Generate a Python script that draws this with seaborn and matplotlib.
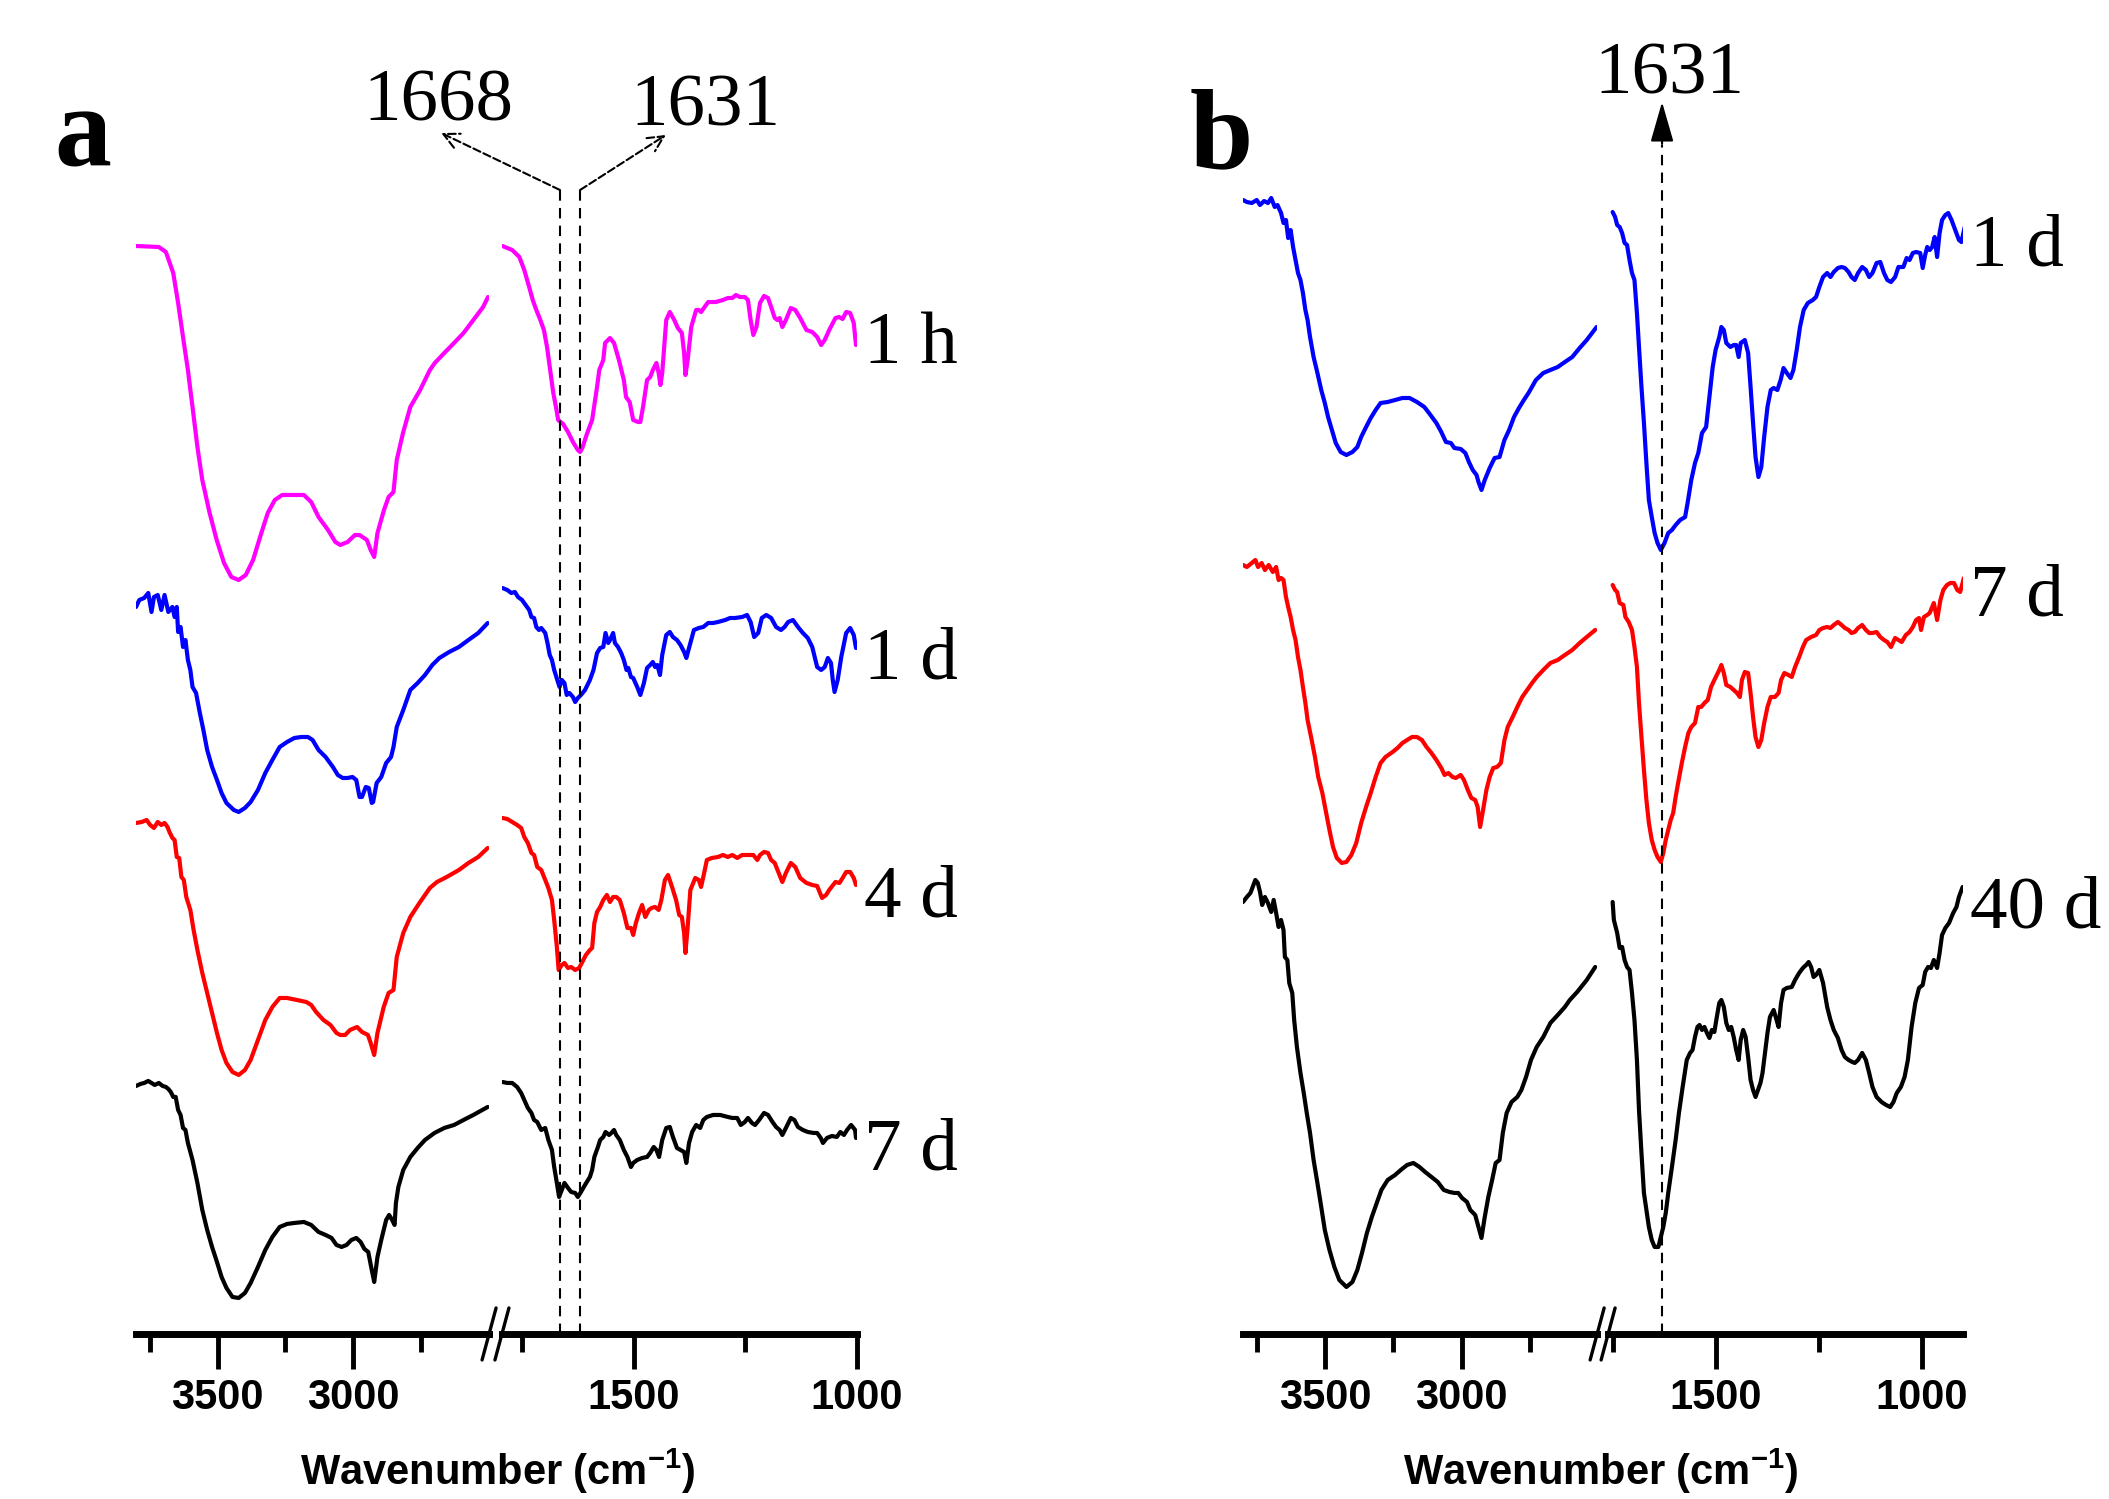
import matplotlib
matplotlib.use("Agg")
import matplotlib.pyplot as plt
from matplotlib import font_manager
from matplotlib.lines import Line2D
import seaborn as sns

# FTIR spectra: wavenumber (cm-1) and stacked transmittance (arb. units)
# panel a - left (OH/CH) segment and right (fingerprint) segment

a_1h_left_wn = [3800, 3716, 3690, 3663, 3645, 3627, 3609, 3592, 3574, 3556, 3529, 3503, 3476, 3449, 3422,
                3396, 3369, 3342, 3315, 3289, 3262, 3182, 3155, 3128, 3093, 3066, 3048, 3021, 2994, 2977,
                2950, 2936, 2923, 2911, 2887, 2870, 2852, 2840, 2817, 2790, 2754, 2718, 2700, 2665, 2629,
                2594, 2558, 2522, 2504]
a_1h_left_t = [108.8, 108.7, 108.2, 106.1, 103.1, 99.7, 96.4, 92.7, 88.7, 85.4, 82.1, 79.4, 77.1, 75.7, 75.4,
               75.9, 77.4, 79.8, 82.1, 83.4, 83.9, 83.9, 83.2, 81.7, 80.4, 79.2, 78.9, 79.2, 79.9, 79.9,
               79.4, 78.4, 77.7, 80.1, 82.4, 83.7, 84.2, 87.4, 90.1, 92.7, 94.4, 96.4, 97.1, 98.1, 99.1,
               100.1, 101.4, 102.7, 103.7]
a_1h_right_wn = [1794, 1772, 1756, 1745, 1734, 1726, 1718, 1709, 1701, 1694, 1687, 1680, 1674, 1669, 1658,
                 1647, 1636, 1625, 1620, 1615, 1604, 1593, 1582, 1577, 1568, 1564, 1553, 1544, 1533, 1522,
                 1517, 1509, 1501, 1490, 1485, 1479, 1470, 1463, 1457, 1449, 1444, 1440, 1436, 1427, 1419,
                 1409, 1401, 1392, 1387, 1384, 1379, 1371, 1360, 1354, 1349, 1338, 1333, 1316, 1300, 1289,
                 1279, 1271, 1262, 1251, 1244, 1238, 1232, 1225, 1217, 1208, 1199, 1192, 1184, 1178, 1173,
                 1167, 1159, 1148, 1138, 1127, 1113, 1100, 1089, 1080, 1072, 1062, 1048, 1040, 1032, 1024,
                 1015, 1007, 1002]
a_1h_right_t = [108.8, 108.4, 107.7, 106.4, 104.7, 103.4, 102.4, 101.4, 100.4, 98.7, 96.4, 94.1, 92.7, 91.4, 91.0,
                90.2, 89.2, 88.4, 88.2, 88.6, 90.1, 91.4, 94.7, 96.4, 97.4, 99.1, 99.6, 99.1, 97.4, 95.4,
                93.7, 93.2, 91.4, 91.2, 91.2, 92.7, 95.4, 95.7, 96.4, 97.1, 96.1, 94.9, 96.1, 101.4, 102.2,
                101.4, 100.6, 100.1, 98.1, 95.9, 97.4, 100.7, 102.4, 102.4, 102.2, 102.9, 103.2, 103.2, 103.4, 103.6,
                103.6, 103.9, 103.7, 103.7, 103.4, 101.4, 99.9, 100.7, 103.1, 103.8, 103.6, 102.7, 101.6, 101.4, 101.6,
                100.7, 101.4, 102.6, 102.4, 101.6, 100.4, 100.2, 99.7, 98.9, 99.4, 100.4, 101.6, 101.7, 101.5, 102.2,
                102.1, 101.1, 98.9]

a_1d_left_wn = [3800, 3788, 3770, 3755, 3743, 3734, 3720, 3707, 3695, 3681, 3666, 3658, 3650, 3645, 3636,
                3627, 3618, 3609, 3600, 3592, 3579, 3565, 3552, 3538, 3520, 3502, 3485, 3467, 3440, 3422,
                3399, 3378, 3351, 3324, 3298, 3271, 3244, 3217, 3191, 3167, 3150, 3128, 3102, 3075, 3057,
                3039, 3021, 3003, 2989, 2977, 2968, 2954, 2943, 2932, 2927, 2914, 2897, 2879, 2861, 2852,
                2840, 2816, 2790, 2763, 2736, 2709, 2683, 2647, 2611, 2576, 2540, 2505]
a_1d_left_t = [72.7, 73.4, 73.6, 74.1, 72.2, 73.7, 73.9, 72.4, 73.9, 72.2, 72.7, 71.7, 72.7, 70.2, 70.7,
               68.7, 69.4, 67.4, 66.4, 64.7, 64.1, 62.1, 60.4, 58.4, 56.7, 55.4, 54.1, 53.1, 52.4, 52.2,
               52.6, 53.2, 54.4, 56.1, 57.4, 58.7, 59.2, 59.6, 59.7, 59.7, 59.4, 58.4, 57.7, 56.7, 55.9,
               55.6, 55.6, 55.7, 55.4, 53.7, 53.7, 54.7, 54.6, 53.1, 53.2, 55.1, 55.7, 57.1, 57.7, 58.7,
               60.7, 62.4, 64.4, 65.1, 65.9, 66.9, 67.6, 68.2, 68.7, 69.4, 70.1, 71.1]
a_1d_right_wn = [1794, 1783, 1774, 1766, 1759, 1750, 1742, 1734, 1729, 1723, 1718, 1712, 1707, 1698, 1693,
                 1688, 1683, 1678, 1671, 1666, 1661, 1655, 1650, 1644, 1636, 1631, 1625, 1618, 1609, 1598,
                 1590, 1582, 1575, 1568, 1563, 1557, 1553, 1546, 1542, 1535, 1528, 1522, 1516, 1512, 1506,
                 1501, 1492, 1485, 1477, 1470, 1463, 1457, 1452, 1447, 1441, 1436, 1427, 1419, 1412, 1403,
                 1395, 1387, 1382, 1376, 1365, 1354, 1344, 1333, 1322, 1311, 1295, 1284, 1273, 1257, 1246,
                 1238, 1230, 1221, 1213, 1203, 1192, 1181, 1170, 1162, 1154, 1143, 1132, 1121, 1110, 1100,
                 1089, 1080, 1072, 1065, 1058, 1054, 1050, 1043, 1035, 1024, 1015, 1007, 1002]
a_1d_right_t = [74.6, 74.4, 74.1, 74.2, 73.7, 73.4, 72.9, 72.4, 71.7, 71.6, 70.7, 70.4, 70.6, 70.1, 69.1,
                67.9, 67.4, 66.4, 65.4, 64.7, 65.4, 65.1, 63.9, 64.1, 63.7, 63.2, 63.6, 63.9, 64.4, 65.4,
                66.4, 68.1, 68.6, 68.7, 70.1, 69.1, 69.4, 70.1, 69.1, 68.7, 68.1, 67.4, 66.4, 66.6, 65.7,
                65.6, 64.7, 63.9, 65.1, 66.6, 66.9, 67.2, 66.7, 66.9, 65.9, 67.9, 69.9, 70.2, 69.7, 69.4,
                68.9, 68.2, 67.6, 68.6, 70.4, 70.6, 70.7, 71.1, 71.1, 71.2, 71.4, 71.6, 71.6, 71.7, 71.9,
                71.2, 69.7, 70.1, 71.6, 71.9, 71.6, 70.7, 70.4, 70.7, 71.2, 71.4, 70.7, 70.1, 69.6, 68.7,
                66.7, 66.4, 66.7, 67.6, 67.1, 65.4, 64.2, 65.4, 67.7, 70.1, 70.6, 69.9, 68.6]

a_4d_left_wn = [3800, 3779, 3761, 3748, 3734, 3720, 3707, 3695, 3684, 3677, 3666, 3658, 3650, 3641, 3633,
                3624, 3615, 3600, 3588, 3574, 3556, 3538, 3520, 3502, 3485, 3467, 3445, 3422, 3399, 3378,
                3351, 3324, 3298, 3271, 3244, 3208, 3173, 3155, 3137, 3110, 3084, 3062, 3048, 3030, 3012,
                2986, 2968, 2946, 2936, 2923, 2911, 2888, 2870, 2852, 2840, 2816, 2790, 2754, 2718, 2692,
                2656, 2611, 2576, 2540, 2505]
a_4d_left_t = [51.1, 51.2, 51.4, 50.9, 50.6, 51.2, 50.9, 51.1, 50.7, 50.2, 49.6, 49.4, 47.7, 47.6, 45.7,
               45.4, 43.7, 42.4, 40.4, 38.4, 36.1, 34.1, 32.1, 30.1, 28.4, 27.1, 26.2, 25.9, 26.4, 27.4,
               29.4, 31.4, 32.7, 33.6, 33.6, 33.4, 33.2, 32.9, 32.2, 31.4, 30.9, 30.1, 29.9, 29.9, 30.4,
               30.7, 30.2, 29.9, 29.1, 27.9, 30.1, 32.7, 34.1, 34.4, 37.7, 40.1, 41.7, 43.2, 44.6, 45.2,
               45.7, 46.4, 47.1, 47.7, 48.6]
a_4d_right_wn = [1794, 1783, 1772, 1761, 1752, 1745, 1737, 1729, 1723, 1716, 1707, 1698, 1691, 1683, 1678,
                 1672, 1668, 1661, 1655, 1647, 1640, 1631, 1622, 1615, 1607, 1598, 1593, 1588, 1582, 1575,
                 1568, 1560, 1553, 1546, 1539, 1531, 1522, 1514, 1506, 1501, 1495, 1488, 1481, 1474, 1466,
                 1460, 1452, 1444, 1438, 1430, 1423, 1414, 1405, 1398, 1392, 1387, 1384, 1379, 1373, 1362,
                 1354, 1349, 1344, 1336, 1325, 1311, 1300, 1289, 1279, 1268, 1257, 1243, 1232, 1223, 1217,
                 1208, 1199, 1192, 1184, 1176, 1167, 1159, 1148, 1138, 1127, 1113, 1100, 1089, 1078, 1069,
                 1062, 1048, 1039, 1032, 1024, 1015, 1007, 1002]
a_4d_right_t = [51.6, 51.5, 51.2, 50.9, 50.6, 49.7, 49.1, 48.1, 47.9, 46.7, 46.4, 45.4, 44.6, 43.4, 41.4,
                38.7, 36.4, 36.9, 37.1, 36.6, 36.7, 36.4, 36.6, 37.2, 37.9, 38.4, 38.6, 41.1, 42.2, 42.7,
                43.4, 43.9, 43.2, 43.7, 43.7, 43.4, 42.1, 40.6, 40.6, 39.9, 41.1, 42.1, 42.9, 41.7, 42.4,
                42.6, 42.7, 42.4, 43.4, 45.4, 45.9, 44.7, 43.4, 41.9, 41.7, 40.1, 38.1, 40.7, 44.4, 45.6,
                45.4, 44.7, 45.7, 47.4, 47.6, 47.7, 47.9, 47.7, 47.9, 47.6, 47.9, 47.9, 47.9, 47.4, 47.9,
                48.2, 48.1, 47.4, 47.1, 46.2, 45.2, 46.1, 47.1, 46.7, 45.6, 45.1, 44.9, 44.8, 43.6, 43.9,
                44.4, 45.2, 45.1, 45.6, 46.2, 46.2, 45.6, 44.9]

a_7d_left_wn = [3800, 3784, 3770, 3755, 3743, 3731, 3716, 3702, 3690, 3681, 3672, 3663, 3654, 3645, 3636,
                3627, 3618, 3609, 3592, 3574, 3556, 3538, 3520, 3502, 3485, 3467, 3445, 3422, 3399, 3378,
                3351, 3324, 3298, 3271, 3244, 3217, 3182, 3155, 3128, 3102, 3080, 3062, 3043, 3025, 3007,
                2989, 2973, 2959, 2945, 2932, 2923, 2911, 2897, 2879, 2868, 2857, 2848, 2843, 2834, 2816,
                2790, 2763, 2736, 2701, 2665, 2629, 2594, 2558, 2505]
a_7d_left_t = [24.8, 25.0, 25.1, 25.3, 25.1, 24.9, 25.1, 24.8, 24.7, 24.5, 24.2, 23.7, 23.7, 22.4, 21.9,
               20.6, 20.4, 19.1, 17.4, 15.1, 12.4, 10.4, 8.7, 7.2, 5.7, 4.6, 3.7, 3.6, 4.1, 5.1,
               6.7, 8.4, 9.7, 10.7, 11.0, 11.1, 11.2, 10.9, 10.2, 9.9, 9.6, 8.9, 8.7, 8.9, 9.4,
               9.6, 9.2, 8.5, 8.2, 6.4, 5.2, 7.7, 9.4, 11.4, 11.9, 11.4, 10.9, 13.1, 14.7, 16.4,
               17.7, 18.6, 19.4, 20.1, 20.6, 20.9, 21.4, 21.9, 22.7]
a_7d_right_wn = [1794, 1783, 1772, 1761, 1752, 1745, 1737, 1729, 1723, 1716, 1707, 1698, 1691, 1683, 1678,
                 1672, 1667, 1661, 1655, 1647, 1640, 1631, 1625, 1618, 1609, 1598, 1593, 1588, 1580, 1575,
                 1568, 1563, 1555, 1550, 1544, 1539, 1531, 1522, 1514, 1506, 1501, 1492, 1481, 1470, 1463,
                 1455, 1449, 1443, 1436, 1427, 1419, 1412, 1403, 1395, 1387, 1382, 1376, 1369, 1360, 1351,
                 1344, 1336, 1322, 1306, 1289, 1279, 1268, 1260, 1251, 1244, 1235, 1228, 1219, 1208, 1199,
                 1189, 1181, 1173, 1167, 1159, 1148, 1140, 1132, 1121, 1110, 1097, 1089, 1081, 1076, 1067,
                 1056, 1045, 1037, 1029, 1022, 1013, 1004, 1002]
a_7d_right_t = [25.2, 25.1, 25.1, 24.7, 24.1, 23.4, 22.6, 22.1, 21.4, 21.2, 20.4, 20.6, 19.4, 18.4, 16.7,
                15.1, 13.7, 14.4, 15.1, 14.6, 14.2, 14.1, 13.7, 14.2, 14.9, 15.7, 16.4, 17.7, 18.7, 19.4,
                19.7, 20.2, 19.9, 20.1, 20.4, 19.9, 19.4, 18.4, 17.7, 16.7, 17.1, 17.4, 17.6, 17.7, 18.1,
                18.7, 18.4, 17.7, 19.4, 20.6, 20.7, 19.7, 18.6, 18.4, 18.2, 17.1, 19.1, 20.2, 20.9, 20.6,
                21.4, 21.7, 21.9, 21.9, 21.7, 21.6, 21.6, 20.9, 21.2, 21.6, 21.1, 20.9, 21.4, 22.1, 21.9,
                21.2, 20.7, 20.4, 19.9, 20.6, 21.6, 21.4, 20.7, 20.4, 20.2, 20.1, 20.1, 19.6, 19.1, 19.6,
                19.8, 19.7, 20.2, 19.9, 20.4, 20.9, 20.4, 19.6]

# panel b
b_1d_left_wn = [3800, 3786, 3768, 3750, 3738, 3723, 3709, 3697, 3684, 3674, 3661, 3652, 3643, 3635, 3626,
                3617, 3608, 3599, 3590, 3581, 3572, 3564, 3555, 3542, 3528, 3514, 3501, 3489, 3475, 3461,
                3443, 3422, 3400, 3382, 3368, 3350, 3333, 3315, 3297, 3271, 3244, 3217, 3191, 3164, 3137,
                3120, 3093, 3075, 3058, 3040, 3027, 3004, 2987, 2974, 2960, 2946, 2939, 2928, 2916, 2898,
                2880, 2862, 2844, 2827, 2809, 2791, 2773, 2756, 2729, 2702, 2676, 2649, 2623, 2596, 2569,
                2543, 2507]
b_1d_left_t = [113.4, 113.2, 113.1, 113.4, 112.9, 113.3, 113.1, 113.6, 112.7, 112.9, 112.1, 111.1, 111.4, 109.6, 110.4,
               108.7, 107.4, 106.1, 105.4, 104.1, 102.4, 101.4, 99.7, 97.7, 96.1, 94.4, 93.1, 91.7, 90.4, 89.1,
               88.2, 87.9, 88.2, 88.7, 89.7, 90.7, 91.6, 92.4, 93.1, 93.2, 93.4, 93.6, 93.6, 93.2, 92.7,
               92.1, 91.1, 90.2, 89.2, 89.1, 88.6, 88.5, 88.1, 87.2, 86.4, 85.9, 85.2, 84.4, 85.4, 86.6,
               87.6, 87.7, 89.4, 90.4, 91.7, 92.6, 93.4, 94.1, 95.4, 96.1, 96.4, 96.7, 97.2, 97.7, 98.6,
               99.4, 100.7]
b_1d_right_wn = [1751, 1745, 1740, 1734, 1728, 1722, 1716, 1710, 1704, 1698, 1692, 1687, 1681, 1675, 1669,
                 1663, 1656, 1649, 1642, 1634, 1625, 1616, 1607, 1598, 1587, 1575, 1569, 1560, 1551, 1543,
                 1534, 1524, 1516, 1508, 1501, 1492, 1487, 1481, 1475, 1465, 1457, 1451, 1445, 1440, 1430,
                 1422, 1416, 1410, 1404, 1397, 1390, 1383, 1375, 1367, 1360, 1351, 1343, 1336, 1328, 1319,
                 1312, 1304, 1296, 1287, 1277, 1265, 1257, 1249, 1240, 1230, 1222, 1214, 1204, 1195, 1187,
                 1178, 1171, 1163, 1155, 1145, 1136, 1128, 1120, 1110, 1101, 1092, 1084, 1075, 1065, 1057,
                 1045, 1037, 1030, 1022, 1014, 1004, 998, 992, 987, 981, 975, 969, 963, 957, 951,
                 943, 936, 928, 919, 910, 904, 896]
b_1d_right_t = [112.2, 111.7, 110.9, 110.7, 110.1, 109.1, 108.9, 107.4, 106.1, 105.4, 102.1, 98.7, 94.7, 91.1, 87.1,
                83.4, 81.7, 80.1, 79.1, 78.4, 79.1, 80.1, 80.4, 80.9, 81.4, 81.7, 83.1, 85.4, 87.1, 88.1,
                90.1, 90.7, 93.7, 96.7, 98.4, 99.7, 100.7, 100.4, 99.1, 98.7, 98.9, 98.9, 97.7, 99.1, 99.4,
                98.1, 94.7, 91.1, 87.7, 85.7, 86.7, 89.7, 92.7, 94.4, 94.6, 94.4, 95.4, 96.6, 96.1, 95.6,
                96.4, 98.4, 100.7, 102.4, 103.1, 103.4, 103.7, 104.7, 105.7, 106.1, 105.7, 106.2, 106.6, 106.7, 106.6,
                106.2, 105.7, 105.4, 106.1, 106.7, 106.4, 105.7, 106.1, 107.1, 107.2, 106.1, 105.4, 105.2, 105.7, 106.7,
                106.7, 107.6, 107.4, 108.1, 108.2, 108.1, 106.6, 107.9, 108.7, 108.4, 108.7, 109.7, 107.7, 110.1, 111.4,
                111.9, 112.1, 111.4, 110.4, 109.4, 109.2, 110.7]

b_7d_left_wn = [3800, 3786, 3768, 3755, 3745, 3732, 3720, 3706, 3691, 3679, 3670, 3661, 3652, 3643, 3635,
                3626, 3617, 3608, 3599, 3590, 3581, 3572, 3564, 3549, 3537, 3525, 3510, 3496, 3484, 3471,
                3457, 3439, 3422, 3404, 3386, 3368, 3350, 3333, 3315, 3297, 3279, 3253, 3235, 3217, 3200,
                3182, 3164, 3146, 3129, 3111, 3093, 3075, 3063, 3049, 3034, 3022, 3004, 2992, 2978, 2965,
                2951, 2942, 2933, 2924, 2910, 2898, 2885, 2871, 2857, 2844, 2832, 2814, 2797, 2779, 2761,
                2743, 2726, 2702, 2676, 2649, 2623, 2596, 2569, 2543, 2512]
b_7d_left_t = [76.9, 76.7, 77.1, 77.4, 76.7, 77.1, 76.4, 76.9, 76.2, 76.7, 75.4, 75.6, 75.4, 73.7, 72.7,
               71.7, 70.4, 69.4, 67.7, 66.4, 64.7, 63.1, 61.4, 59.4, 57.7, 55.7, 54.1, 52.1, 50.4, 48.7,
               47.6, 47.1, 47.2, 47.9, 49.1, 51.1, 52.7, 54.1, 55.7, 57.1, 57.7, 58.2, 58.6, 59.1, 59.4,
               59.7, 59.7, 59.4, 58.7, 58.1, 57.4, 56.6, 55.9, 56.1, 55.7, 55.6, 55.9, 55.4, 54.4, 53.6,
               53.4, 52.7, 50.7, 52.1, 54.4, 55.7, 56.6, 56.7, 57.1, 59.4, 60.7, 61.7, 62.7, 63.7, 64.4,
               65.1, 65.7, 66.4, 67.1, 67.4, 67.9, 68.4, 69.1, 69.7, 70.4]
b_7d_right_wn = [1751, 1745, 1740, 1734, 1725, 1720, 1712, 1704, 1698, 1692, 1687, 1681, 1675, 1669, 1663,
                 1656, 1649, 1642, 1634, 1628, 1622, 1616, 1610, 1604, 1598, 1592, 1583, 1575, 1567, 1560,
                 1551, 1543, 1536, 1528, 1520, 1512, 1504, 1498, 1492, 1487, 1481, 1475, 1465, 1457, 1449,
                 1442, 1437, 1430, 1422, 1416, 1410, 1404, 1397, 1390, 1383, 1375, 1367, 1357, 1348, 1342,
                 1334, 1324, 1316, 1308, 1298, 1289, 1281, 1269, 1257, 1249, 1240, 1230, 1222, 1214, 1204,
                 1195, 1187, 1178, 1171, 1163, 1155, 1145, 1136, 1128, 1120, 1110, 1101, 1092, 1084, 1075,
                 1065, 1057, 1049, 1039, 1030, 1022, 1014, 1007, 1002, 995, 987, 981, 971, 963, 955,
                 948, 939, 931, 922, 914, 907, 898]
b_7d_right_t = [74.9, 74.4, 74.2, 73.1, 72.9, 71.7, 71.2, 70.4, 68.7, 66.7, 63.1, 59.7, 56.4, 53.4, 51.1,
                49.4, 48.4, 47.7, 47.2, 48.1, 49.4, 50.4, 51.4, 52.1, 53.7, 55.1, 57.1, 58.7, 60.1, 60.7,
                61.1, 62.7, 62.7, 63.1, 63.4, 64.7, 65.4, 65.9, 66.4, 66.9, 66.1, 64.9, 64.7, 64.4, 64.1,
                63.7, 65.4, 66.2, 66.1, 64.1, 61.7, 59.7, 58.7, 59.4, 61.1, 62.7, 63.7, 63.7, 64.1, 65.4,
                66.1, 65.9, 65.7, 66.7, 67.7, 68.7, 69.4, 69.7, 69.9, 70.4, 70.6, 70.7, 70.6, 70.9, 71.2,
                70.9, 70.6, 70.4, 70.1, 70.2, 70.6, 70.9, 70.4, 70.1, 70.1, 70.2, 69.7, 69.4, 69.2, 68.7,
                69.6, 69.4, 69.2, 69.9, 70.2, 70.7, 71.4, 71.6, 70.4, 71.7, 71.9, 72.1, 73.1, 71.4, 73.4,
                74.4, 74.9, 75.1, 75.1, 74.4, 74.2, 75.6]

b_40d_left_wn = [3800, 3786, 3773, 3762, 3755, 3746, 3738, 3730, 3720, 3709, 3697, 3688, 3679, 3670, 3661,
                 3652, 3647, 3638, 3631, 3620, 3613, 3603, 3590, 3578, 3567, 3555, 3542, 3528, 3514, 3501,
                 3484, 3466, 3448, 3422, 3400, 3382, 3365, 3347, 3329, 3311, 3294, 3271, 3244, 3223, 3200,
                 3177, 3155, 3134, 3111, 3088, 3066, 3045, 3027, 3013, 2999, 2981, 2969, 2951, 2939, 2928,
                 2916, 2903, 2889, 2876, 2862, 2850, 2836, 2818, 2797, 2782, 2765, 2747, 2726, 2702, 2676,
                 2649, 2623, 2605, 2578, 2543, 2512]
b_40d_left_t = [43.2, 43.7, 44.1, 44.9, 45.4, 45.1, 44.2, 42.9, 43.7, 43.1, 42.2, 43.4, 42.1, 40.7, 41.4,
                40.4, 37.7, 37.4, 35.1, 34.1, 31.4, 28.7, 26.1, 24.1, 22.1, 20.1, 17.4, 15.1, 12.7, 10.4,
                8.4, 6.7, 5.4, 4.7, 5.2, 6.4, 8.1, 10.1, 11.7, 13.1, 14.4, 15.4, 15.9, 16.4, 16.9,
                17.1, 16.7, 16.2, 15.7, 15.2, 14.4, 14.2, 14.1, 14.1, 13.6, 13.2, 12.4, 11.9, 10.7, 9.6,
                11.7, 13.7, 15.4, 17.1, 17.4, 20.1, 22.1, 23.2, 23.7, 24.4, 25.7, 27.4, 28.7, 29.7, 31.1,
                31.9, 32.7, 33.4, 34.2, 35.4, 36.7]
b_40d_right_wn = [1751, 1748, 1740, 1734, 1728, 1722, 1716, 1710, 1704, 1698, 1692, 1687, 1681, 1675, 1669,
                  1663, 1656, 1649, 1640, 1634, 1628, 1622, 1616, 1607, 1598, 1590, 1581, 1571, 1563, 1557,
                  1551, 1545, 1540, 1534, 1528, 1522, 1516, 1510, 1504, 1498, 1492, 1487, 1481, 1475, 1469,
                  1463, 1457, 1451, 1445, 1440, 1434, 1428, 1422, 1416, 1410, 1404, 1398, 1392, 1387, 1381,
                  1375, 1369, 1360, 1355, 1348, 1342, 1336, 1328, 1316, 1308, 1298, 1289, 1281, 1275, 1269,
                  1263, 1257, 1249, 1240, 1230, 1222, 1214, 1204, 1195, 1187, 1178, 1169, 1163, 1155, 1145,
                  1136, 1128, 1120, 1110, 1098, 1087, 1077, 1069, 1061, 1051, 1042, 1034, 1025, 1016, 1007,
                  998, 992, 985, 978, 971, 963, 957, 951, 943, 934, 924, 916, 910, 901]
b_40d_right_t = [43.2, 41.4, 40.1, 38.6, 38.7, 37.4, 36.7, 36.4, 34.1, 31.4, 27.4, 22.4, 18.1, 14.1, 12.4,
                 10.7, 9.4, 8.7, 8.7, 9.7, 10.7, 12.1, 14.1, 16.7, 19.4, 22.1, 24.7, 27.4, 28.1, 28.4,
                 29.7, 30.7, 30.9, 30.4, 30.7, 30.1, 29.6, 30.4, 30.2, 31.7, 33.1, 33.4, 32.7, 31.1, 30.4,
                 30.7, 29.7, 28.4, 27.4, 29.4, 30.4, 29.7, 27.7, 25.4, 24.4, 23.7, 24.4, 25.1, 26.1, 28.1,
                 30.1, 31.7, 32.4, 31.7, 30.7, 33.1, 34.4, 34.6, 34.7, 35.4, 36.1, 36.6, 36.9, 37.2, 36.7,
                 35.7, 35.9, 36.4, 35.1, 32.7, 31.4, 30.4, 29.6, 28.4, 27.7, 27.4, 27.2, 27.1, 27.4, 28.1,
                 27.4, 26.1, 24.7, 23.7, 23.2, 22.9, 22.7, 23.2, 24.1, 24.7, 25.7, 27.4, 30.7, 33.1, 34.6,
                 34.9, 36.2, 36.7, 36.6, 37.4, 36.6, 38.1, 39.9, 40.6, 41.1, 42.1, 42.7, 43.7, 44.7]

# sample labels, colours and label height (right segment, y)
labels_a = ["1 h", "1 d", "4 d", "7 d"]
colors_a = ["#ff00ff", "#0000ff", "#ff0000", "#000000"]
label_y_a = [97.1, 65.5, 41.7, 16.4]
labels_b = ["1 d", "7 d", "40 d"]
colors_b = ["#0000ff", "#ff0000", "#000000"]
label_y_b = [106.9, 71.8, 40.6]

# marked bands (position drawn, text shown)
bands_a = [1665, 1620]
band_text_a = ["1668", "1631"]
bands_b = [1631]
band_text_b = ["1631"]

series_a = [
    (a_1h_left_wn, a_1h_left_t, a_1h_right_wn, a_1h_right_t),
    (a_1d_left_wn, a_1d_left_t, a_1d_right_wn, a_1d_right_t),
    (a_4d_left_wn, a_4d_left_t, a_4d_right_wn, a_4d_right_t),
    (a_7d_left_wn, a_7d_left_t, a_7d_right_wn, a_7d_right_t),
]
series_b = [
    (b_1d_left_wn, b_1d_left_t, b_1d_right_wn, b_1d_right_t),
    (b_7d_left_wn, b_7d_left_t, b_7d_right_wn, b_7d_right_t),
    (b_40d_left_wn, b_40d_left_t, b_40d_right_wn, b_40d_right_t),
]

# ---- style ----
sns.set_theme(style="white")
installed = {f.name for f in font_manager.fontManager.ttflist}
tick_font = "Liberation Sans Narrow" if "Liberation Sans Narrow" in installed else "Liberation Sans"
plt.rcParams["font.family"] = ["Liberation Serif", "DejaVu Serif"]
plt.rcParams["text.color"] = "black"
plt.rcParams["xtick.color"] = "black"
plt.rcParams["xtick.labelcolor"] = "black"
plt.rcParams["axes.edgecolor"] = "black"
plt.rcParams["mathtext.fontset"] = "custom"
plt.rcParams["mathtext.bf"] = tick_font + ":bold"
plt.rcParams["mathtext.rm"] = tick_font + ":bold"

fig = plt.figure(figsize=(21.09, 14.99), dpi=100)
bottom, height = 0.1101, 0.8005
ax_a1 = fig.add_axes([0.0645, bottom, 0.1674, height])
ax_a2 = fig.add_axes([0.2380, bottom, 0.1683, height])
ax_b1 = fig.add_axes([0.5894, bottom, 0.1679, height])
ax_b2 = fig.add_axes([0.7625, bottom, 0.1683, height])

for (lw_, lt_, rw_, rt_), c in zip(series_a, colors_a):
    sns.lineplot(x=lw_, y=lt_, ax=ax_a1, color=c, lw=3.0, sort=False, estimator=None)
    sns.lineplot(x=rw_, y=rt_, ax=ax_a2, color=c, lw=3.0, sort=False, estimator=None)
for (lw_, lt_, rw_, rt_), c in zip(series_b, colors_b):
    sns.lineplot(x=lw_, y=lt_, ax=ax_b1, color=c, lw=3.0, sort=False, estimator=None)
    sns.lineplot(x=rw_, y=rt_, ax=ax_b2, color=c, lw=3.0, sort=False, estimator=None)

setup = [
    (ax_a1, (3800, 2500), [3500, 3000], [3750, 3250, 2750]),
    (ax_a2, (1795, 1000), [1500, 1000], [1750, 1250]),
    (ax_b1, (3800, 2505), [3500, 3000], [3750, 3250, 2750]),
    (ax_b2, (1762, 900), [1500, 1000], [1750, 1250]),
]
for ax, xlim, major, minor in setup:
    ax.set_xlim(*xlim)
    ax.set_ylim(0, 120)
    ax.set_facecolor("none")
    for s in ["top", "left", "right"]:
        ax.spines[s].set_visible(False)
    ax.spines["bottom"].set_linewidth(5)
    ax.spines["bottom"].set_color("black")
    ax.set_yticks([])
    ax.set_xticks(major)
    ax.set_xticks(minor, minor=True)
    ax.tick_params(axis="x", which="major", direction="out", length=25, width=3.5,
                   color="black", labelcolor="black", pad=7, bottom=True)
    ax.tick_params(axis="x", which="minor", direction="out", length=13, width=3.5,
                   color="black", bottom=True)
    ax.set_xticklabels([str(v) for v in major], fontfamily=tick_font, fontweight="bold",
                       fontsize=30, color="black")
    ax.set_xlabel("")
    ax.set_ylabel("")

# sample labels
for lab, y in zip(labels_a, label_y_a):
    ax_a2.text(985, y, lab, fontsize=54, color="black", ha="left", va="baseline", clip_on=False)
for lab, y in zip(labels_b, label_y_b):
    ax_b2.text(883, y, lab, fontsize=54, color="black", ha="left", va="baseline", clip_on=False)

# band markers, panel a
dash = (0, (5, 3.5))
for x in bands_a:
    ax_a2.plot([x, x], [0, 114.4], color="black", lw=1.5, ls=dash)
arrow_kw = dict(arrowstyle="->", color="black", lw=1.5, ls="--", shrinkA=0, shrinkB=0, mutation_scale=28)
ax_a2.annotate("", xy=(1931, 120.1), xytext=(bands_a[0], 114.4), arrowprops=arrow_kw, annotation_clip=False)
ax_a2.annotate("", xy=(1428, 119.9), xytext=(bands_a[1], 114.4), arrowprops=arrow_kw, annotation_clip=False)
ax_a2.text(1938, 121.4, band_text_a[0], fontsize=54, color="black", ha="center", va="baseline", clip_on=False)
ax_a2.text(1339, 120.9, band_text_a[1], fontsize=54, color="black", ha="center", va="baseline", clip_on=False)

# band marker, panel b
ax_b2.plot([bands_b[0], bands_b[0]], [0, 118.9], color="black", lw=1.5, ls=dash)
ax_b2.annotate("", xy=(bands_b[0], 123.2), xytext=(bands_b[0], 119.0),
               arrowprops=dict(arrowstyle="-|>,head_length=1.25,head_width=0.36", color="black",
                               lw=1.5, shrinkA=0, shrinkB=0, mutation_scale=20),
               annotation_clip=False)
ax_b2.text(1614, 124.1, band_text_b[0], fontsize=54, color="black", ha="center", va="baseline", clip_on=False)

# axis break marks
dx, dy = 7 / 2109, 26 / 1499
for x in [ax_a1.get_position().x1, ax_a2.get_position().x0,
          ax_b1.get_position().x1, ax_b2.get_position().x0]:
    fig.add_artist(Line2D([x - dx, x + dx], [bottom - dy, bottom + dy],
                          transform=fig.transFigure, color="black", lw=2.4))

# axis titles, centred on each broken axis
for xc in [0.2362, 0.7588]:
    fig.text(xc, 0.0093, r"Wavenumber (cm$^{\mathbf{-1}}$)", fontsize=30, fontweight="bold",
             fontfamily=tick_font, color="black", ha="center", va="baseline")

# panel letters
fig.text(0.0256, 0.8899, "a", fontsize=82, fontweight="bold", color="black", ha="left", va="baseline")
fig.text(0.5642, 0.8879, "b", fontsize=82, fontweight="bold", color="black", ha="left", va="baseline")

fig.savefig("out.png", dpi=100)
